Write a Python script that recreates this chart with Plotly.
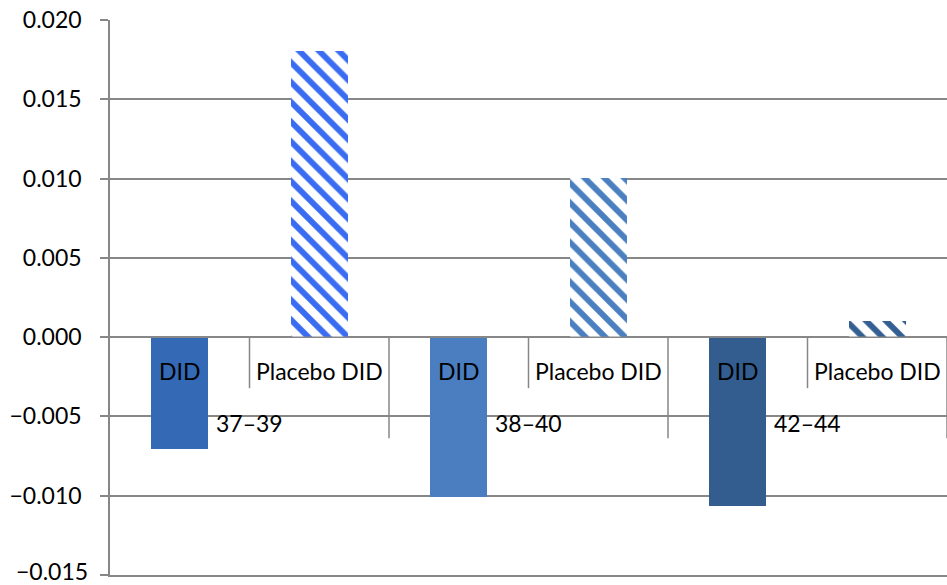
import plotly.graph_objects as go

# Age groups and estimates
groups = ["37–39", "38–40", "42–44"]
sub_labels = ["DID", "Placebo DID"]
did_values = [-0.00706, -0.01009, -0.01066]
placebo_values = [0.01804, 0.01003, 0.00101]

did_colors = ["#3369b5", "#4b7ec0", "#335d8f"]
placebo_colors = ["#3a6cf2", "#4a7fc0", "#345f92"]

y_ticks = [-0.015, -0.010, -0.005, 0.000, 0.005, 0.010, 0.015, 0.020]
y_ticktext = [("−" if v < 0 else "") + f"{abs(v):.3f}" for v in y_ticks]

FONT = "Lato"
GRID = "#878787"
TICK_FONT = dict(family=FONT, size=23, color="black")
n = len(groups)
did_x = [2 * i + 0.5 for i in range(n)]
plc_x = [2 * i + 1.5 for i in range(n)]
bar_w = 0.41

fig = go.Figure()
fig.add_trace(go.Bar(
    x=did_x, y=did_values, width=bar_w,
    marker=dict(color=did_colors, line=dict(width=0)),
    showlegend=False, hoverinfo="y",
))
fig.add_trace(go.Bar(
    x=plc_x, y=placebo_values, width=bar_w,
    marker=dict(
        color="white",
        line=dict(width=0),
        pattern=dict(shape="\\", fgcolor=placebo_colors, bgcolor="white",
                     size=14, solidity=0.42, fillmode="replace"),
    ),
    showlegend=False, hoverinfo="y",
))

shapes = []
annotations = []
# category axis along y = 0
shapes.append(dict(type="line", xref="x", yref="y", x0=0, x1=2 * n, y0=0, y1=0,
                   line=dict(color=GRID, width=1.5), layer="above"))
for i, g in enumerate(groups):
    # divider between the two sub-categories
    shapes.append(dict(type="line", xref="x", yref="y", ysizemode="pixel", yanchor=0,
                       x0=2 * i + 1, x1=2 * i + 1, y0=0, y1=-51,
                       line=dict(color=GRID, width=1.5)))
    # divider at the right end of the group
    shapes.append(dict(type="line", xref="x", yref="y", ysizemode="pixel", yanchor=0,
                       x0=2 * i + 2, x1=2 * i + 2, y0=0, y1=-101,
                       line=dict(color=GRID, width=1.5)))
    for j, s in enumerate(sub_labels):
        annotations.append(dict(x=2 * i + j + 0.5, y=0, xref="x", yref="y",
                                text=s, showarrow=False, yshift=-34,
                                font=dict(family=FONT, size=23, color="black")))
    annotations.append(dict(x=2 * i + 1, y=0, xref="x", yref="y",
                            text=g, showarrow=False, yshift=-86,
                            font=dict(family=FONT, size=23, color="black")))

# the lowest tick label sits at the page edge: draw it nudged up so it stays whole
axis_text = list(y_ticktext)
annotations.append(dict(x=0, y=y_ticks[0], xref="paper", yref="y",
                        text=axis_text[0], showarrow=False,
                        xanchor="right", yanchor="bottom", xshift=-20, yshift=-12,
                        font=TICK_FONT))
axis_text[0] = ""

fig.update_layout(
    width=947, height=585,
    margin=dict(l=110, r=0, t=20, b=10),
    plot_bgcolor="white", paper_bgcolor="white",
    bargap=0,
    shapes=shapes, annotations=annotations,
    xaxis=dict(range=[0, 2 * n], showgrid=False, zeroline=False,
               showticklabels=False, ticks="", fixedrange=True, automargin=False,
               showline=True, linecolor=GRID, linewidth=1.5),
    yaxis=dict(range=[-0.015, 0.020], tickvals=y_ticks, ticktext=axis_text,
               automargin=False,
               showgrid=True, gridcolor=GRID, gridwidth=1.5,
               zeroline=False, showline=True, linecolor=GRID, linewidth=1.5,
               ticks="outside", ticklen=8, tickcolor=GRID, tickwidth=1.5,
               ticklabelstandoff=14, ticklabeloverflow="allow",
               tickfont=TICK_FONT),
)

fig.write_html("out.html")
